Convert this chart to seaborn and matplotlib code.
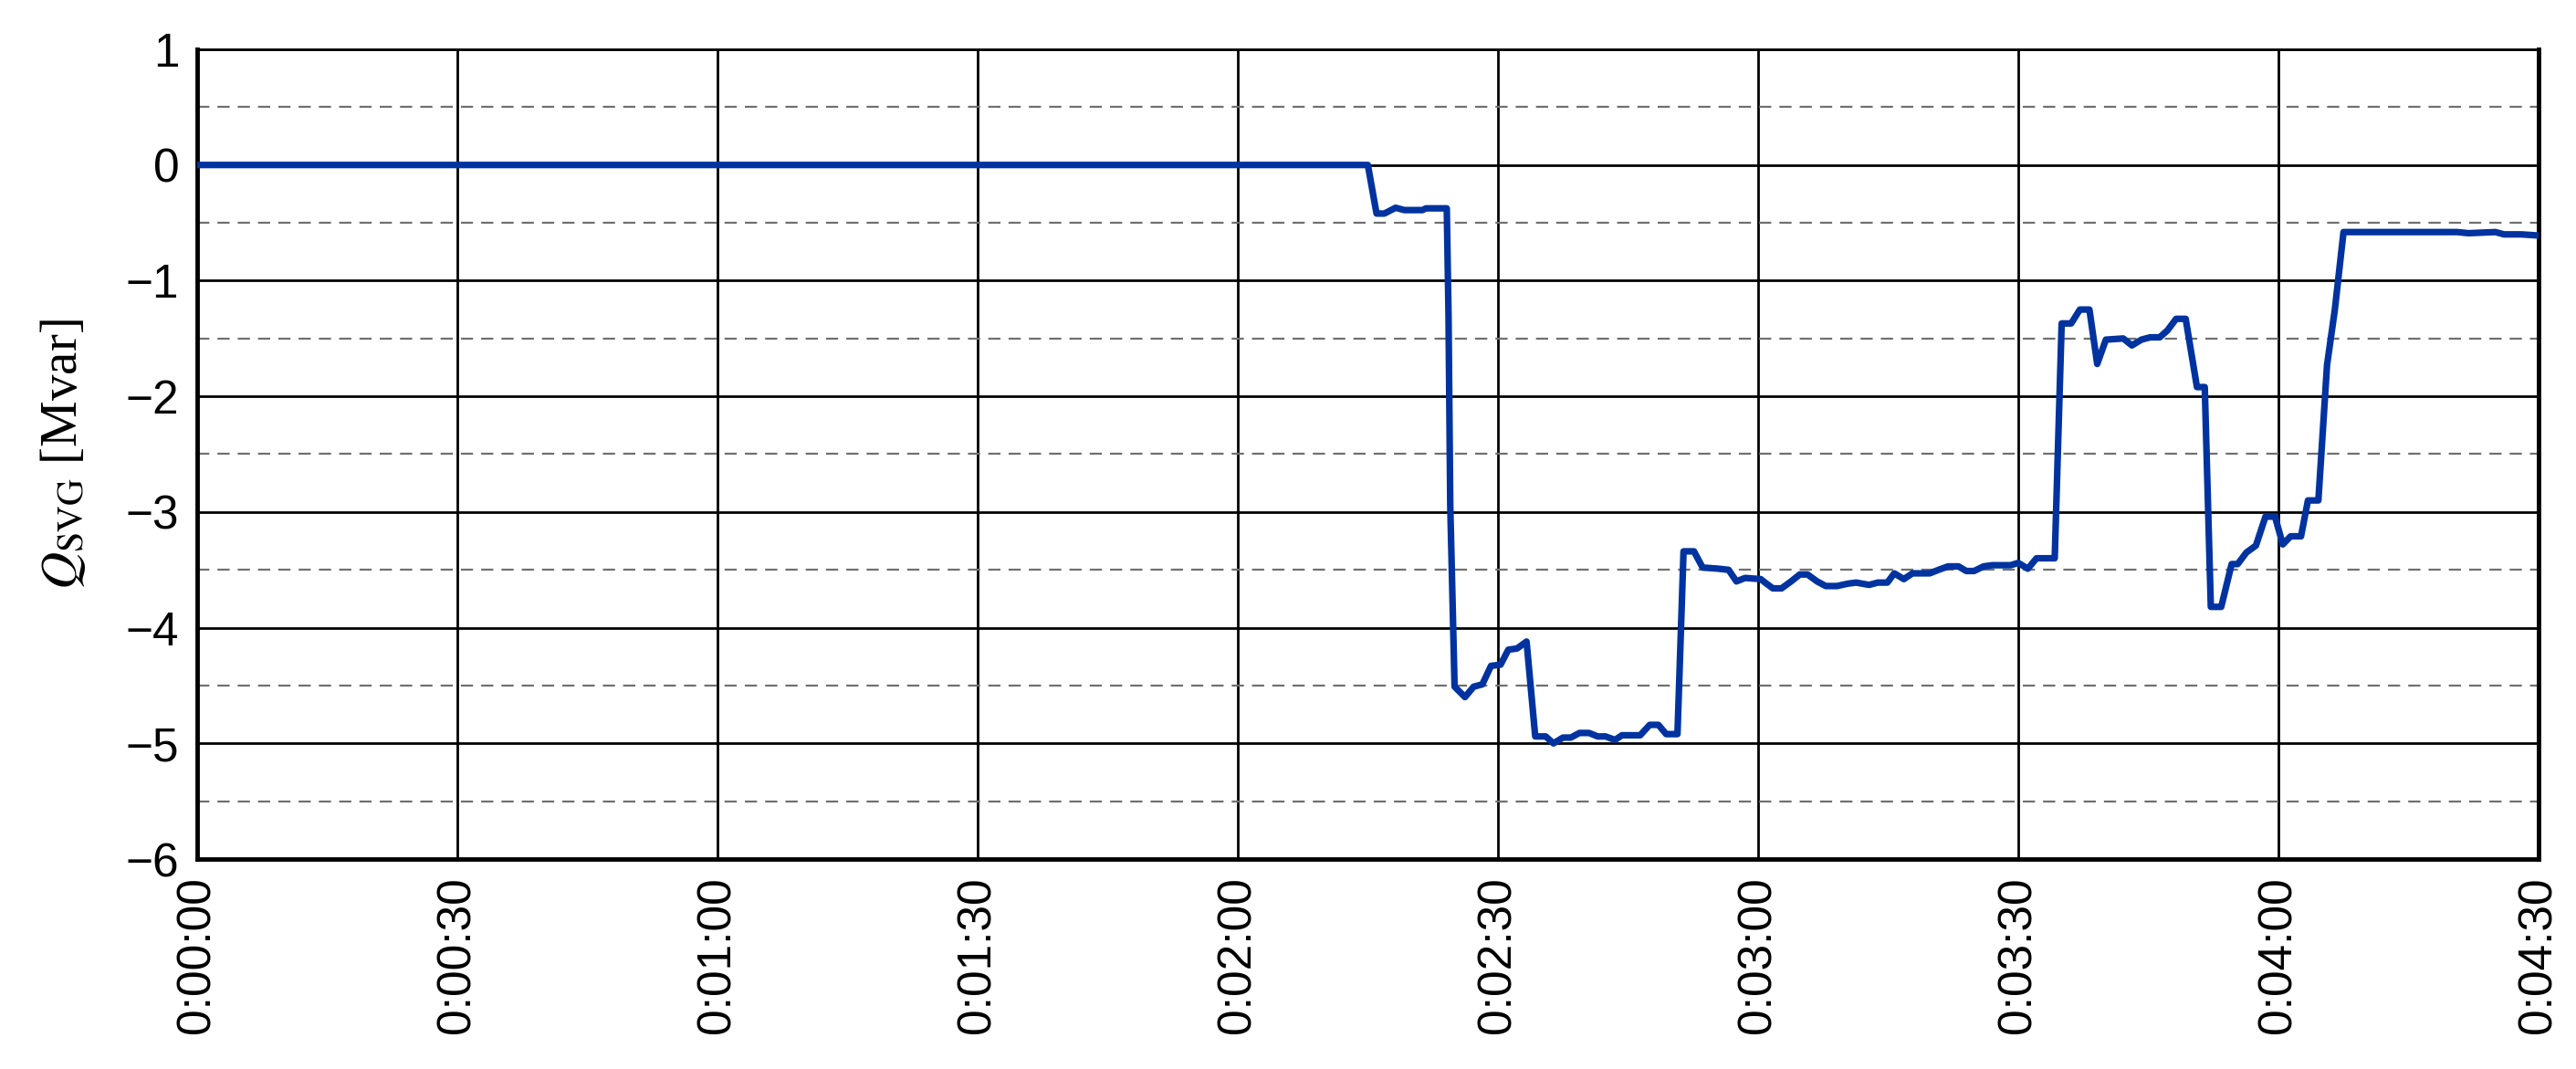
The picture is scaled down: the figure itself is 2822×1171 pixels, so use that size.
import matplotlib
matplotlib.use("Agg")
import matplotlib.pyplot as plt
import seaborn as sns
import pandas as pd
from matplotlib.ticker import MultipleLocator

# time in seconds
t_sec = [0, 135.0, 136.0, 136.9, 138.2, 139.2, 141.3, 141.7, 144.1, 144.3,
         144.5, 145.0, 146.2, 147.2, 148.2, 149.2, 150.3, 151.2, 152.2, 153.3,
         154.3, 155.5, 156.4, 157.5, 158.4, 159.4, 160.5, 161.5, 162.4, 163.5,
         164.3, 166.4, 167.5, 168.5, 169.4, 170.7, 171.4, 172.6, 173.6, 175.4,
         176.6, 177.5, 178.5, 180.3, 180.8, 181.7, 182.7, 183.8, 184.8, 185.7,
         186.8, 187.8, 189.1, 190.3, 191.3, 192.8, 193.8, 194.9, 195.7, 196.8,
         197.8, 199.8, 200.8, 201.9, 203.1, 204.0, 204.9, 206.0, 207.0, 209.1,
         210.0, 211.1, 212.1, 214.2, 215.0, 216.1, 217.1, 218.2, 219.1, 220.1,
         222.1, 223.1, 224.2, 225.2, 226.3, 227.2, 228.2, 229.3, 230.6, 231.5,
         232.2, 233.4, 234.6, 235.3, 236.3, 237.4, 238.5, 239.6, 240.5, 241.4,
         242.6, 243.4, 244.6, 245.6, 246.5, 247.5, 251.8, 260.6, 261.9, 265.0,
         266.0, 268.0, 270.0]

# reactive power of SVG [Mvar]
q_svg = [0, 0, -0.42, -0.42, -0.37, -0.39, -0.39, -0.375, -0.375, -1.29,
         -2.94, -4.51, -4.60, -4.51, -4.49, -4.33, -4.32, -4.19, -4.18, -4.12,
         -4.94, -4.94, -5.00, -4.95, -4.95, -4.91, -4.91, -4.94, -4.94, -4.97,
         -4.93, -4.93, -4.84, -4.84, -4.92, -4.92, -3.34, -3.34, -3.48, -3.49,
         -3.50, -3.60, -3.57, -3.58, -3.61, -3.66, -3.66, -3.60, -3.54, -3.54,
         -3.60, -3.64, -3.64, -3.62, -3.61, -3.63, -3.61, -3.61, -3.53, -3.58,
         -3.53, -3.53, -3.50, -3.47, -3.47, -3.51, -3.51, -3.47, -3.46, -3.46,
         -3.44, -3.49, -3.40, -3.40, -1.37, -1.37, -1.25, -1.25, -1.72, -1.51,
         -1.50, -1.56, -1.51, -1.49, -1.49, -1.43, -1.33, -1.33, -1.92, -1.92,
         -3.82, -3.82, -3.45, -3.45, -3.35, -3.29, -3.04, -3.04, -3.28, -3.21,
         -3.21, -2.90, -2.90, -1.73, -1.25, -0.58, -0.58, -0.58, -0.59, -0.58,
         -0.60, -0.60, -0.61]

x_ticks = [0, 30, 60, 90, 120, 150, 180, 210, 240, 270]
x_tick_labels = ["0:00:00", "0:00:30", "0:01:00", "0:01:30", "0:02:00",
                 "0:02:30", "0:03:00", "0:03:30", "0:04:00", "0:04:30"]

df = pd.DataFrame({"t": t_sec, "q": q_svg})

sns.set_style("white")
plt.rcParams["font.family"] = ["Liberation Sans", "DejaVu Sans"]
plt.rcParams["mathtext.fontset"] = "stix"
plt.rcParams["text.color"] = "black"
plt.rcParams["axes.labelcolor"] = "black"

fig = plt.figure(figsize=(28.22, 11.71), dpi=100)
ax = fig.add_axes([0.0765, 0.1964, 0.909, 0.7575])

sns.lineplot(data=df, x="t", y="q", ax=ax, color="#0033a0",
             linewidth=5.2, estimator=None, sort=False, zorder=5)

ax.set_xlim(0, 270)
ax.set_ylim(-6, 1)
ax.set_xticks(x_ticks)
ax.set_xticklabels(x_tick_labels, rotation=90)
ax.yaxis.set_major_locator(MultipleLocator(1))
ax.yaxis.set_minor_locator(MultipleLocator(0.5))

ax.grid(which="major", axis="both", color="black", linewidth=2.0)
ax.grid(which="minor", axis="y", color="#707070", linewidth=1.6,
        linestyle=(0, (6, 4)))
ax.set_axisbelow(True)

ax.tick_params(axis="both", which="both", length=0, labelsize=37, pad=14,
               labelcolor="black")

for side in ["left", "bottom", "right"]:
    ax.spines[side].set_linewidth(3.5)
    ax.spines[side].set_color("black")
ax.spines["top"].set_linewidth(2)
ax.spines["top"].set_color("black")

ax.set_xlabel("")
ax.set_ylabel(r"$Q_{\mathrm{SVG}}$ [Mvar]", fontsize=41,
              family="Liberation Serif", labelpad=30)

plt.savefig("out.png", dpi=100)
